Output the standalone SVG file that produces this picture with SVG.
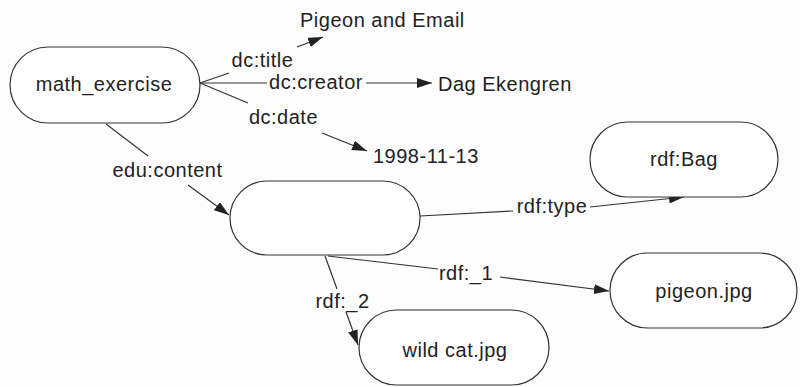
<svg xmlns="http://www.w3.org/2000/svg" width="800" height="387" viewBox="0 0 800 387">
<style>
.node rect{fill:#fff;stroke:#333;stroke-width:1.2}
text{font-family:"Liberation Sans",Arial,Helvetica,sans-serif;font-size:20px;fill:#222;letter-spacing:0.5px}
.c{text-anchor:middle}
.e line{stroke:#333;stroke-width:1.2;fill:none}
.e line.a{marker-end:url(#arr)}
</style>
<defs>
<marker id="arr" markerUnits="userSpaceOnUse" markerWidth="16" markerHeight="11" refX="15" refY="5" orient="auto">
<path d="M0,0 L15,5 L0,10 z" fill="#222"/>
</marker>
</defs>
<rect width="800" height="387" fill="#fdfdfd"/>
<g id="connectors" class="e">
<g id="e-title"><line x1="200" y1="83" x2="229" y2="73"/><line class="a" x1="297" y1="47" x2="323" y2="37"/><text class="c" x="262.5" y="67">dc:title</text></g>
<g id="e-creator"><line x1="200" y1="83" x2="267" y2="83"/><line class="a" x1="366" y1="83" x2="432" y2="83"/><text class="c" x="316" y="89">dc:creator</text></g>
<g id="e-date"><line x1="200" y1="83" x2="248" y2="103"/><line class="a" x1="322" y1="133" x2="367" y2="151"/><text class="c" x="283.5" y="124">dc:date</text></g>
<g id="e-content"><line x1="106" y1="124" x2="148" y2="156"/><line class="a" x1="188" y1="185" x2="229" y2="215"/><text class="c" x="167.5" y="177">edu:content</text></g>
<g id="e-type"><line x1="420" y1="216" x2="513" y2="211"/><line class="a" x1="590" y1="207" x2="684" y2="197"/><text class="c" x="552" y="213">rdf:type</text></g>
<g id="e-1"><line x1="328" y1="256" x2="438" y2="269"/><line class="a" x1="500" y1="277" x2="609" y2="291"/><text class="c" x="466" y="280">rdf:_1</text></g>
<g id="e-2"><line x1="325" y1="256" x2="337" y2="289"/><line class="a" x1="346" y1="312" x2="358" y2="345"/><text class="c" x="342.5" y="308">rdf:_2</text></g>
</g>
<g id="n-math" class="node"><rect x="10" y="47" width="190" height="76" rx="38"/><text class="c" x="104" y="91">math_exercise</text></g>
<g id="n-title"><text x="300" y="27">Pigeon and Email</text></g>
<g id="n-creator"><text x="438" y="91">Dag Ekengren</text></g>
<g id="n-date"><text x="373" y="163">1998-11-13</text></g>
<g id="n-blank" class="node"><rect x="230" y="181" width="190" height="74" rx="37"/></g>
<g id="n-bag" class="node"><rect x="590" y="122" width="188" height="75" rx="37.5"/><text class="c" x="684" y="166">rdf:Bag</text></g>
<g id="n-pigeon" class="node"><rect x="610" y="253" width="187" height="75" rx="37.5"/><text class="c" x="704" y="298">pigeon.jpg</text></g>
<g id="n-wildcat" class="node"><rect x="359" y="310" width="190" height="75" rx="37.5"/><text class="c" x="455" y="357">wild cat.jpg</text></g>
</svg>
